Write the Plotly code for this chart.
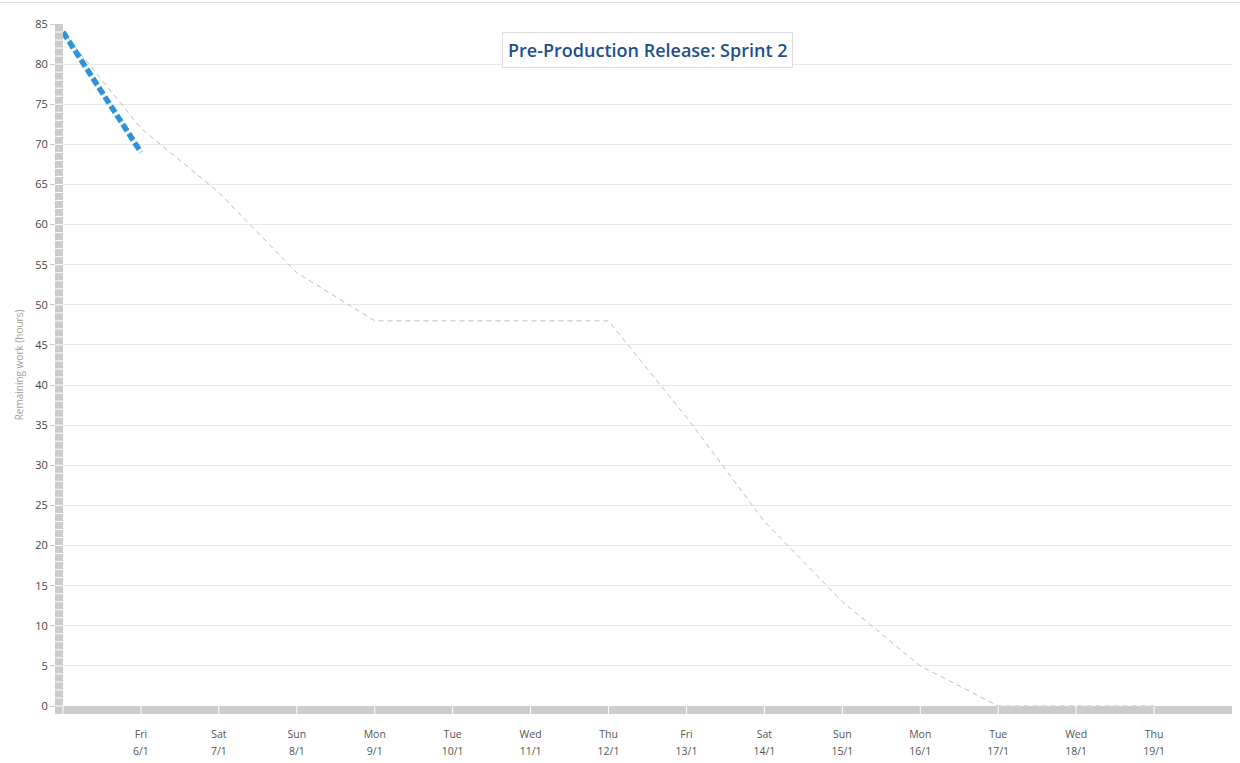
import plotly.graph_objects as go
from datetime import date

# ---- data ----
days = ["2017-01-05", "2017-01-06", "2017-01-07", "2017-01-08", "2017-01-09",
        "2017-01-10", "2017-01-11", "2017-01-12", "2017-01-13", "2017-01-14",
        "2017-01-15", "2017-01-16", "2017-01-17", "2017-01-18", "2017-01-19"]
ideal_hours = [84, 72, 64, 54, 48, 48, 48, 48, 36, 23, 13, 5, 0, 0, 0]
actual_days = ["2017-01-05", "2017-01-06"]
actual_hours = [84, 69]
tick_dates = days[1:]
tick_weekdays = ["Fri", "Sat", "Sun", "Mon", "Tue", "Wed", "Thu",
                 "Fri", "Sat", "Sun", "Mon", "Tue", "Wed", "Thu"]
tick_daymonth = ["6/1", "7/1", "8/1", "9/1", "10/1", "11/1", "12/1",
                 "13/1", "14/1", "15/1", "16/1", "17/1", "18/1", "19/1"]
title_text = "Pre-Production Release: Sprint 2"
y_title = "Remaining work (hours)"

X_START, X_END = "2017-01-05", "2017-01-20"
Y_MAX = 85

W, H = 1240, 763
ML, MR, MT, MB = 63, 8, 24, 57
PW, PH = W - ML - MR, H - MT - MB
BAR = 8
FONT = "Open Sans"

fig = go.Figure()
fig.add_trace(go.Scatter(x=days, y=ideal_hours, mode="lines",
                         line=dict(color="#bdbdbd", width=1, dash="5px,4px"),
                         hoverinfo="skip", showlegend=False))
fig.add_trace(go.Scatter(x=actual_days, y=actual_hours, mode="lines",
                         line=dict(color="#2b93d9", width=5.5, dash="8px,3px"),
                         showlegend=False))

shapes = []
# white gaps in y-axis bar at every unit
for v in range(0, Y_MAX):
    yp = v / Y_MAX
    shapes.append(dict(type="line", xref="paper", yref="paper",
                       x0=-BAR / PW, x1=0, y0=yp, y1=yp,
                       line=dict(color="white", width=1)))
# white gaps in x-axis bar at every day
d0 = date.fromisoformat(X_START)
d1 = date.fromisoformat(X_END)
span = (d1 - d0).days
for d in days:
    xp = (date.fromisoformat(d) - d0).days / span
    shapes.append(dict(type="line", xref="paper", yref="paper",
                       x0=xp, x1=xp, y0=-BAR / PH, y1=0,
                       line=dict(color="white", width=1)))
# top border line
ytop = (PH + MT - 2.5) / PH
shapes.append(dict(type="line", xref="paper", yref="paper",
                   x0=-ML / PW, x1=(W - ML) / PW, y0=ytop, y1=ytop,
                   line=dict(color="#dddddd", width=1)))

xtickfont = dict(size=10.5, color="#555555", family=FONT)

fig.update_layout(
    width=W, height=H,
    margin=dict(l=ML, r=MR, t=MT, b=MB, autoexpand=False),
    paper_bgcolor="white", plot_bgcolor="white",
    font=dict(family=FONT),
    shapes=shapes,
    xaxis=dict(type="date", range=[X_START, X_END], automargin=False,
               tickmode="array", tickvals=tick_dates, ticktext=tick_weekdays,
               showgrid=False, zeroline=False,
               showline=True, linewidth=BAR, linecolor="#cccccc",
               ticks="", ticklabelstandoff=11, tickfont=xtickfont),
    xaxis2=dict(type="date", range=[X_START, X_END], automargin=False,
                overlaying="x", side="bottom", anchor="y",
                tickmode="array", tickvals=tick_dates, ticktext=tick_daymonth,
                showgrid=False, zeroline=False, showline=False,
                ticks="", ticklabelstandoff=37, tickfont=xtickfont),
    yaxis=dict(range=[0, Y_MAX], dtick=5, tick0=0, automargin=False,
               showgrid=True, gridcolor="#e8e8e8", gridwidth=1, zeroline=False,
               showline=True, linewidth=BAR, linecolor="#cccccc",
               ticks="outside", ticklen=5, tickcolor="#cccccc",
               tickfont=dict(size=11, color="#444444", family=FONT),
               title=dict(text=y_title, font=dict(size=10, color="#a0a0a0", family=FONT),
                          standoff=13)),
    annotations=[dict(text=title_text, xref="paper", yref="paper",
                      x=0.5, y=(PH + MT - 50) / PH, xanchor="center", yanchor="middle",
                      showarrow=False, bgcolor="white", bordercolor="#dddddd",
                      borderwidth=1, borderpad=5,
                      font=dict(size=18, color="#1f4f8f", family=FONT, weight=600))],
)
# invisible trace on xaxis2 so it renders
fig.add_trace(go.Scatter(x=[X_START], y=[None], xaxis="x2", yaxis="y",
                         mode="lines", showlegend=False, hoverinfo="skip"))

fig.write_html("out.html", config={"displayModeBar": False},
               post_script="document.body.style.margin='0';document.body.style.overflow='hidden';")
